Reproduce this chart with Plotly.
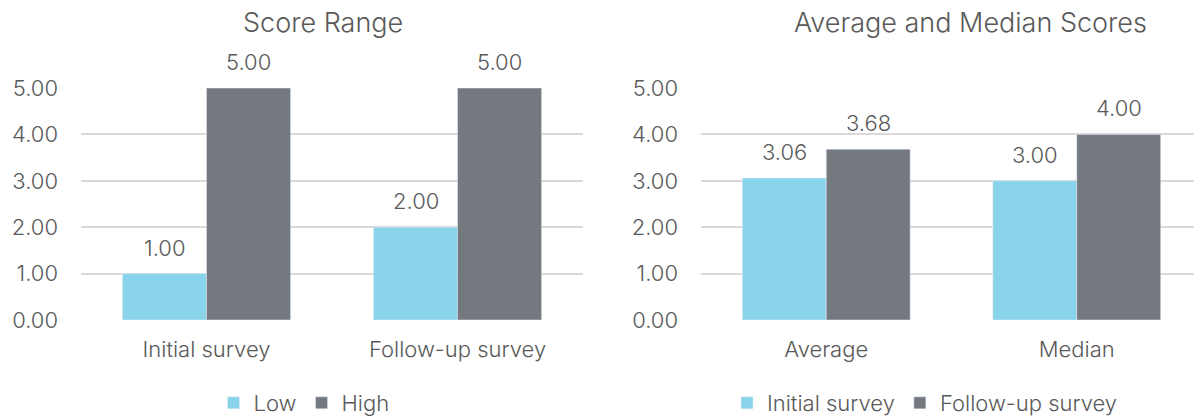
import plotly.graph_objects as go

# ---- data ----
range_categories = ["Initial survey", "Follow-up survey"]
range_low = [1.00, 2.00]
range_high = [5.00, 5.00]

stat_categories = ["Average", "Median"]
stat_initial = [3.06, 3.00]
stat_followup = [3.68, 4.00]

y_ticks = [0, 1, 2, 3, 4, 5]

BLUE = "#8AD4EB"
GRAY = "#747980"
TEXT = "#595959"
GRID = "#D9D9D9"
FONT = "Inter"
WT = 300
FS = 22

W, H = 1194, 417
fig = go.Figure()

fig.add_trace(go.Bar(x=range_categories, y=range_low, name="Low", marker_color=BLUE,
                     xaxis="x", yaxis="y", legend="legend"))
fig.add_trace(go.Bar(x=range_categories, y=range_high, name="High", marker_color=GRAY,
                     xaxis="x", yaxis="y", legend="legend"))
fig.add_trace(go.Bar(x=stat_categories, y=stat_initial, name="Initial survey", marker_color=BLUE,
                     xaxis="x2", yaxis="y2", legend="legend2"))
fig.add_trace(go.Bar(x=stat_categories, y=stat_followup, name="Follow-up survey", marker_color=GRAY,
                     xaxis="x2", yaxis="y2", legend="legend2"))

def tfont(size=FS):
    return dict(size=size, color=TEXT, family=FONT, weight=WT)

# data labels above bars
bar_half = 42
annotations = []
for cats, lows, highs, xr, yr in [
    (range_categories, range_low, range_high, "x", "y"),
    (stat_categories, stat_initial, stat_followup, "x2", "y2"),
]:
    for c, lo, hi in zip(cats, lows, highs):
        for v, sh in ((lo, -bar_half), (hi, bar_half)):
            annotations.append(dict(x=c, y=v, xref=xr, yref=yr, text=f"{v:.2f}",
                                    showarrow=False, xshift=sh, yshift=26,
                                    yanchor="middle", font=tfont()))

annotations.append(dict(x=323 / W, y=(H - 22) / H, xref="paper", yref="paper",
                        text="Score Range", showarrow=False, xanchor="center", yanchor="middle",
                        font=tfont(27)))
annotations.append(dict(x=970 / W, y=(H - 22) / H, xref="paper", yref="paper",
                        text="Average and Median Scores", showarrow=False, xanchor="center",
                        yanchor="middle", font=tfont(27)))

ydom = [(H - 320) / H, (H - 88) / H]
yaxis_common = dict(range=[0, 5], tickvals=y_ticks, tickformat=".2f", showgrid=True,
                    gridcolor=GRID, gridwidth=1.5, zeroline=False, showline=False,
                    ticks="", ticklabelstandoff=22, domain=ydom, automargin=False,
                    tickfont=tfont(), fixedrange=True)
xaxis_common = dict(showgrid=False, zeroline=False, showline=False, ticks="",
                    automargin=False, ticklabelstandoff=14, tickfont=tfont())

fig.update_layout(
    width=W, height=H,
    margin=dict(l=0, r=0, t=0, b=0, autoexpand=False),
    paper_bgcolor="white", plot_bgcolor="white",
    barmode="group", bargap=0.33, bargroupgap=0,
    font=dict(family=FONT, color=TEXT),
    xaxis=dict(domain=[81 / W, 583 / W], range=[-0.5, 1.5], anchor="y", **xaxis_common),
    yaxis=dict(anchor="x", **yaxis_common),
    xaxis2=dict(domain=[701 / W, 1.0], range=[-0.5, 1.468], anchor="y2", **xaxis_common),
    yaxis2=dict(anchor="x2", **yaxis_common),
    legend=dict(orientation="h", x=304 / W, y=(H - 403) / H, xanchor="center", yanchor="middle",
                font=tfont(), itemwidth=30),
    legend2=dict(orientation="h", x=925 / W, y=(H - 403) / H, xanchor="center", yanchor="middle",
                 font=tfont(), itemwidth=30),
    annotations=annotations,
    showlegend=True,
)

fig.write_html("out.html")
